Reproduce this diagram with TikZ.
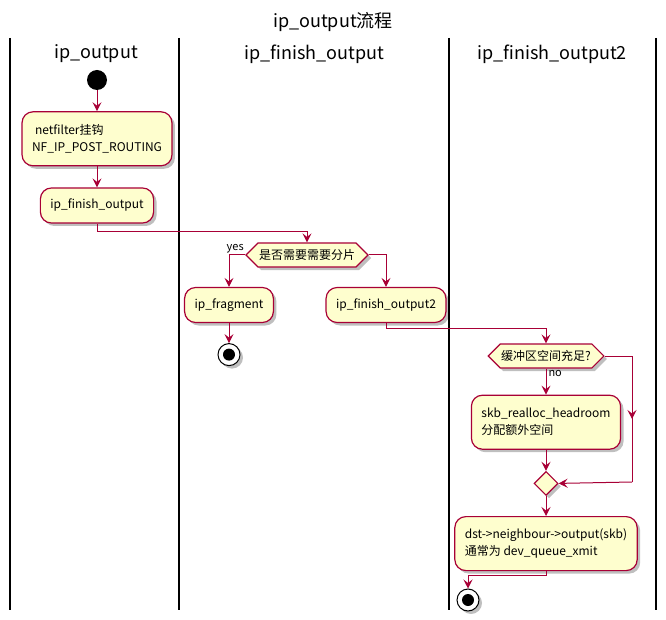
\documentclass[tikz,border=0pt]{standalone}
\usepackage{fontspec}
\setmainfont{Noto Sans CJK SC}
\usetikzlibrary{positioning,shapes.symbols,shapes.geometric,arrows.meta,calc,shadows}
\definecolor{umlred}{HTML}{A80036}
\definecolor{umlfill}{HTML}{FEFECE}
\tikzset{
  shad/.style={drop shadow={shadow xshift=3pt, shadow yshift=-3pt, opacity=0.25, fill=black}},
  act/.style={draw=umlred, line width=1.2pt, rounded corners=11pt, fill=umlfill, font=\fontsize{12}{17}\selectfont, align=left, minimum height=35pt, inner xsep=10pt, shad},
  act2/.style={act, minimum height=54pt},
  dec/.style={draw=umlred, line width=1.2pt, signal, signal to=west and east, signal pointer angle=90, fill=umlfill, font=\fontsize{12}{14}\selectfont, minimum height=24pt, inner xsep=1pt, inner ysep=0pt, shad},
  merge/.style={draw=umlred, line width=1.2pt, diamond, fill=umlfill, minimum size=24pt, inner sep=0pt, shad},
  init/.style={circle, fill=black, minimum size=20pt, inner sep=0pt},
  fin/.style={circle, draw=black, line width=1pt, fill=white, minimum size=22pt, inner sep=0pt, shad, path picture={\fill[black] (path picture bounding box.center) circle (6pt);}},
  head/.style={font=\fontsize{18}{22}\selectfont, inner sep=0pt},
  lane/.style={line width=1.8pt, black},
  lbl/.style={font=\fontsize{11}{13}\selectfont, text=black, inner sep=1pt},
  cf/.style={-{Stealth[length=9pt, width=9pt, inset=3.5pt]}, umlred, line width=1pt}
}
\begin{document}
\begin{tikzpicture}[x=1pt, y=-1pt, node distance=21pt]
  \useasboundingbox (0,0) rectangle (666,620);
  % swimlanes
  \foreach \x in {10,179,449,656}
    \draw[lane] (\x,38) -- (\x,610);
  \node[head] (title) at (333,22) {ip\_output流程};
  \node[head] (hout) at (96,54) {ip\_output};
  \node[head] (hfin) at (314,54) {ip\_finish\_output};
  \node[head] (hfin2) at (552,54) {ip\_finish\_output2};
  % ip_output
  \node[init] (start) at (97,80) {};
  \node[act2, below=of start] (nf) {\hspace*{3pt}netfilter挂钩\\NF\_IP\_POST\_ROUTING};
  \node[act, below=of nf] (ifo) {ip\_finish\_output};
  % ip_finish_output
  \node[dec] (frag?) at (307,255) {是否需要需要分片};
  \node[act] (frag) at (229,305) {ip\_fragment};
  \node[act] (ifo2) at (386,305) {ip\_finish\_output2};
  \node[fin, below=20pt of frag] (stop1) {};
  % ip_finish_output2
  \node[dec] (room?) at (546,356) {缓冲区空间充足?};
  \node[act2, below=26pt of room?] (realloc) {skb\_realloc\_headroom\\分配额外空间};
  \node[merge, below=of realloc] (join) {};
  \node[act2, below=20pt of join] (xmit) {dst->neighbour->output(skb)\\通常为 dev\_queue\_xmit};
  \node[fin] (stop2) at (468,600) {};
  \coordinate (by1) at (632,356);
  \coordinate (by2) at (632,482);
  \draw[cf] (start) -- (nf);
  \draw[cf] (nf) -- (ifo);
  \draw[cf] (ifo.south) -- ++(0,8) -| (frag?.north);
  \draw[cf] (frag?.west) -| node[lbl, pos=0, anchor=south east] {yes} (frag.north);
  \draw[cf] (frag?.east) -| (ifo2.north);
  \draw[cf] (frag) -- (stop1);
  \draw[cf] (ifo2.south) -- ++(0,5) -| (room?.north);
  \draw[cf] (room?.south) -- node[lbl, pos=0, anchor=north west, xshift=1pt] {no} (realloc.north);
  \draw[cf] (room?.east) -- (by1) -- ($(by1)!0.5!(by2)$);
  \draw[umlred, line width=1pt] ($(by1)!0.45!(by2)$) -- (by2);
  \draw[cf] (by2) -- (join.east);
  \draw[cf] (realloc) -- (join);
  \draw[cf] (join) -- (xmit);
  \draw[cf] (xmit.south) -- ++(0,4) -| (stop2.north);
\end{tikzpicture}
\end{document}
